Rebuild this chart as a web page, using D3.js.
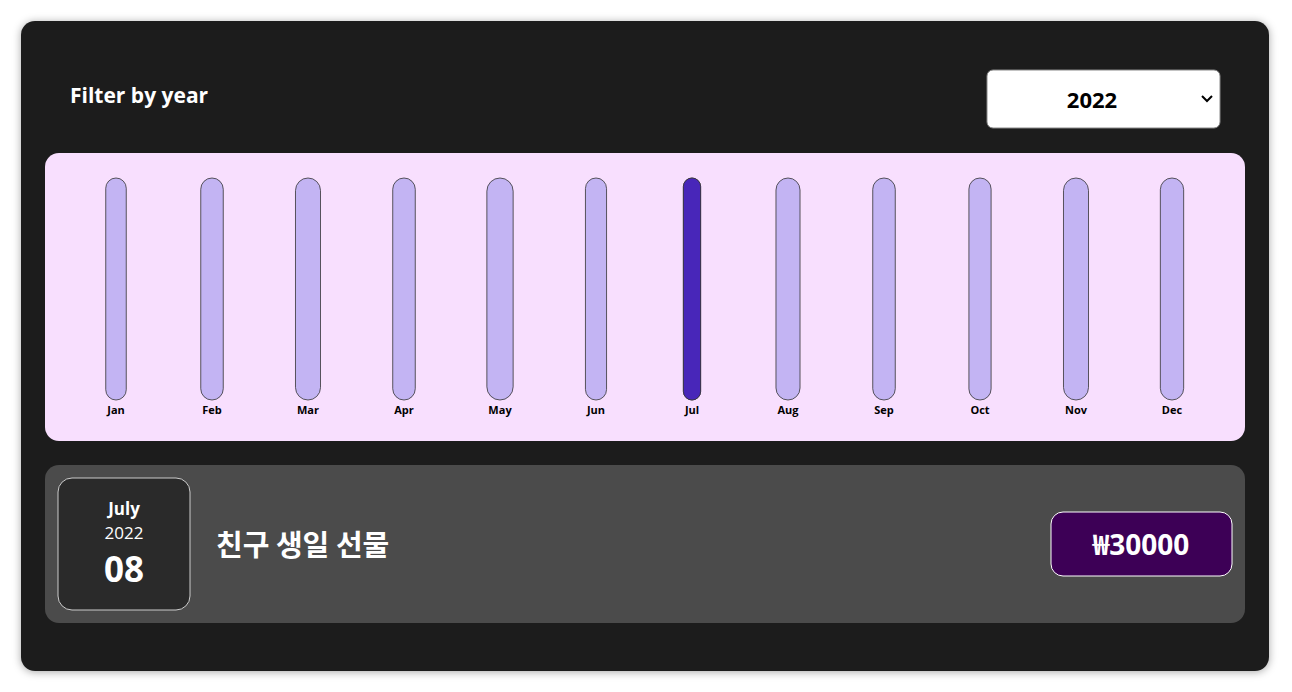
<!DOCTYPE html>
<html>
<head>
<meta charset="utf-8" />
<script src="https://cdn.jsdelivr.net/npm/d3@7"></script>
<style>
body { margin:0; background:#fff; font-family:'Open Sans', 'Noto Sans CJK KR', sans-serif; }
</style>
</head>
<body>
<svg width="1292" height="692">
	<defs>
		<filter id="shadow" x="-5%" y="-5%" width="110%" height="110%">
			<feDropShadow dx="0" dy="1" stdDeviation="4" flood-opacity="0.35"></feDropShadow>
		</filter>
	</defs>
</svg>
<script>
var months   = ["Jan","Feb","Mar","Apr","May","Jun","Jul","Aug","Sep","Oct","Nov","Dec"];
var amounts  = [0,0,0,0,0,0,30000,0,0,0,0,0];
var years    = ["2022"];
var expenses = [{month:"July" ,year:"2022" ,day:"08" ,title:"친구 생일 선물" ,price:"₩30000"}];

var svg = d3.select("svg");

// 바깥 카드
svg.append("rect").attr("x",21).attr("y",21).attr("width",1248).attr("height",650)
.attr("rx",14).attr("fill","#1f1f1f").attr("filter","url(#shadow)");

svg.append("text").attr("x",70).attr("y",103).attr("fill","#fff")
.attr("font-size",21).attr("font-weight","bold").text("Filter by year");

// 연도 선택 박스
svg.append("rect").attr("x",987).attr("y",70).attr("width",233).attr("height",58)
.attr("rx",6).attr("fill","#fff").attr("stroke","#888");
svg.append("text").attr("x",1092).attr("y",108).attr("text-anchor","middle")
.attr("font-size",22).attr("font-weight","bold").attr("fill","#000").text(years[0]);
svg.append("path").attr("d","M1202,96 L1207,101 L1212,96").attr("fill","none")
.attr("stroke","#000").attr("stroke-width",2);

// 차트 영역
svg.append("rect").attr("x",45).attr("y",153).attr("width",1200).attr("height",288)
.attr("rx",14).attr("fill","#f8dffe");

var x = d3.scaleBand().domain(months).range([68,1220]);
var y = d3.scaleLinear().domain([0,d3.max(amounts)]).range([400,178]);

var g = svg.selectAll("g.month").data(months).enter().append("g")
.attr("class","month")
.attr("transform",function(d){ return "translate(" + (x(d) + x.bandwidth()/2) + ",0)"; });

g.append("text").attr("y",414).attr("text-anchor","middle")
.attr("font-size",11).attr("font-weight","bold").attr("fill","#000")
.text(function(d){ return d; });

g.each(function(d,i)
{
	var me = d3.select(this);
	var w  = me.select("text").node().getComputedTextLength() + 3;
	me.append("rect").attr("x",-w/2).attr("y",178).attr("width",w).attr("height",222)
	.attr("rx",w/2).attr("fill","#c3b4f3").attr("stroke","#333").attr("stroke-width",0.8);
	if ( amounts[i] > 0 )
	{
		me.append("rect").attr("x",-w/2).attr("y",y(amounts[i])).attr("width",w)
		.attr("height",400 - y(amounts[i])).attr("rx",w/2).attr("fill","#4826b9")
		.attr("stroke","#333").attr("stroke-width",0.8);
	}
});

// 지출 항목
var item = svg.selectAll("g.item").data(expenses).enter().append("g")
.attr("class","item")
.attr("transform",function(d,i){ return "translate(0," + (i * 170) + ")"; });

item.append("rect").attr("x",45).attr("y",465).attr("width",1200).attr("height",158)
.attr("rx",14).attr("fill","#4b4b4b");
item.append("rect").attr("x",58).attr("y",478).attr("width",132).attr("height",132)
.attr("rx",14).attr("fill","#2a2a2a").attr("stroke","#ccc");
item.append("text").attr("x",124).attr("y",515).attr("text-anchor","middle").attr("fill","#fff")
.attr("font-size",17).attr("font-weight","bold").text(function(d){ return d.month; });
item.append("text").attr("x",124).attr("y",539).attr("text-anchor","middle").attr("fill","#fff")
.attr("font-size",17).text(function(d){ return d.year; });
item.append("text").attr("x",124).attr("y",582).attr("text-anchor","middle").attr("fill","#fff")
.attr("font-size",35).attr("font-weight","bold").text(function(d){ return d.day; });
item.append("text").attr("x",216).attr("y",556).attr("fill","#fff")
.attr("font-family","'Noto Sans CJK KR', sans-serif")
.attr("font-size",29).attr("font-weight","bold").text(function(d){ return d.title; });
item.append("rect").attr("x",1051).attr("y",512).attr("width",181).attr("height",64)
.attr("rx",12).attr("fill","#3d0056").attr("stroke","#fff");
item.append("text").attr("x",1141).attr("y",555).attr("text-anchor","middle").attr("fill","#fff")
.attr("font-size",28).attr("font-weight","bold").text(function(d){ return d.price; });
</script>
</body>
</html>
